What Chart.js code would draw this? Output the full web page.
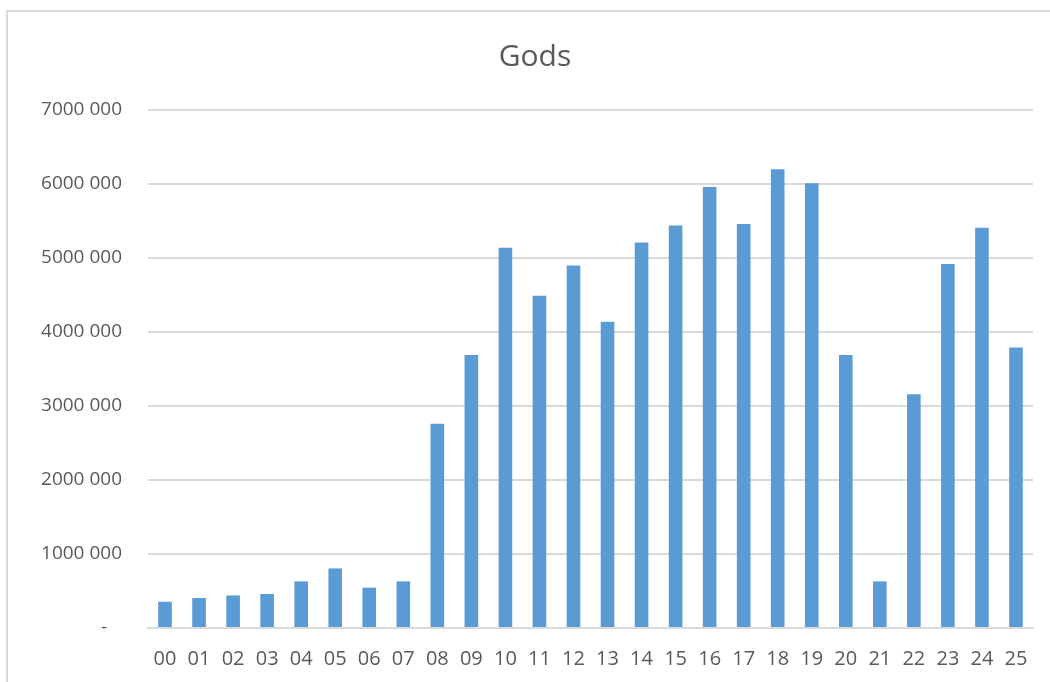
<!DOCTYPE html>
<html>
<head>
<meta charset="utf-8">
<script src="https://cdn.jsdelivr.net/npm/chart.js@4.4.0/dist/chart.umd.min.js"></script>
<style>
  html, body { margin: 0; padding: 0; background: #fff; overflow: hidden; }
  #wrap { position: relative; width: 1050px; height: 682px; }
  #frame { position: absolute; left: 6px; top: 10px; width: 1100px; height: 700px;
           border-top: 2px solid #d9d9d9; border-left: 2px solid #d9d9d9; }
  canvas { position: absolute; left: 0; top: 0; }
</style>
</head>
<body>
<div id="wrap">
  <div id="frame"></div>
  <canvas id="myChart" width="1050" height="682"></canvas>
</div>
<script>
// years 00..25
const kategorier = ['00', '01', '02', '03', '04', '05', '06', '07', '08', '09', '10', '11', '12',
                    '13', '14', '15', '16', '17', '18', '19', '20', '21', '22', '23', '24', '25'];
const gods = [355000, 405000, 440000, 460000, 630000, 805000, 545000, 630000, 2760000, 3690000,
              5140000, 4490000, 4900000, 4140000, 5210000, 5440000, 5960000, 5460000, 6200000,
              6010000, 3690000, 630000, 3160000, 4920000, 5410000, 3790000];
const yEtiketter = ['-   ', '1000 000', '2000 000', '3000 000', '4000 000', '5000 000', '6000 000', '7000 000'];

const ctx = document.getElementById('myChart');
const myChart = new Chart(ctx, {
    type: 'bar',
    data: {
        labels: kategorier,
        datasets: [{
            label: 'Gods',
            data: gods,
            backgroundColor: '#5b9bd5',
            borderWidth: 0,
            barPercentage: 0.4,
            categoryPercentage: 1
        }]
    },
    options: {
        responsive: false,
        animation: false,
        devicePixelRatio: 1,
        layout: { padding: { left: 37, right: 17, top: 0, bottom: 11 } },
        plugins: {
            legend: { display: false },
            tooltip: { enabled: false },
            title: {
                display: true,
                text: 'Gods',
                color: '#595959',
                font: { family: 'Open Sans', size: 30, weight: 'normal' },
                padding: { top: 39, bottom: 35 }
            }
        },
        scales: {
            x: {
                grid: { display: false, drawTicks: false },
                border: { display: true, color: '#d9d9d9', width: 2 },
                ticks: {
                    color: '#595959',
                    font: { family: 'Open Sans', size: 20 },
                    padding: 19,
                    maxRotation: 0,
                    autoSkip: false
                },
                afterFit: (scale) => { scale.height = 43; }
            },
            y: {
                min: 0,
                max: 7000000,
                border: { display: false },
                grid: { color: '#d9d9d9', lineWidth: 2, drawTicks: false },
                ticks: {
                    stepSize: 1000000,
                    color: '#595959',
                    font: { family: 'Open Sans', size: 19 },
                    padding: 26,
                    callback: (value, index) => yEtiketter[index]
                },
                afterFit: (scale) => { scale.width = 111; }
            }
        }
    }
});
</script>
</body>
</html>
